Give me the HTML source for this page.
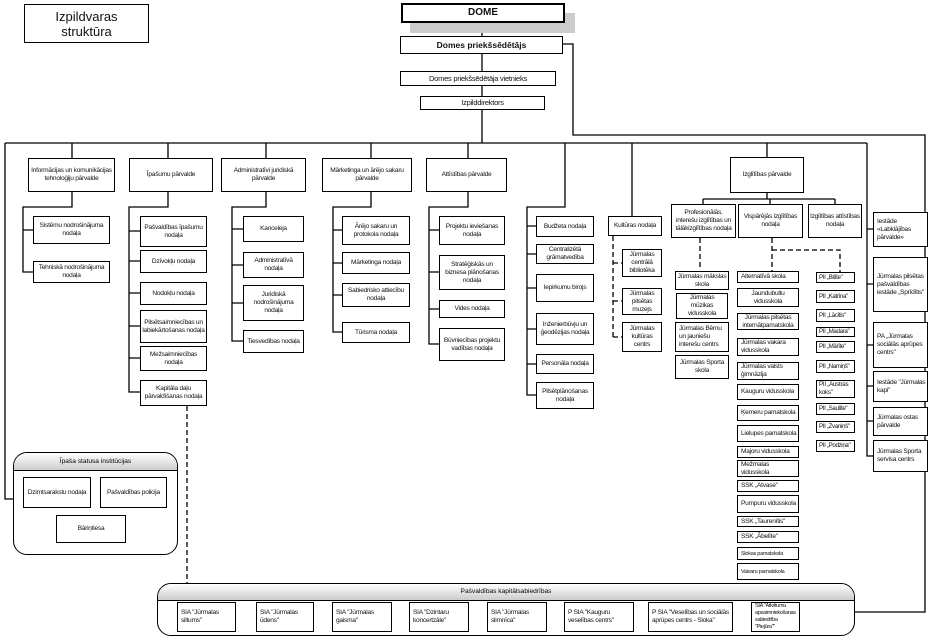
<!DOCTYPE html>
<html><head><meta charset="utf-8"><style>
body{margin:0;width:930px;height:640px;background:#fff;position:relative;overflow:hidden;font-family:"Liberation Sans",Arial,sans-serif;}
.b{position:absolute;border:1.5px solid #000;box-sizing:border-box;display:flex;align-items:center;justify-content:center;text-align:center;font-size:6.6px;line-height:8px;background:#fff;letter-spacing:-0.25px;padding:0 1px;color:#111}
.l{justify-content:flex-start;text-align:left;padding-left:3px}
.p{white-space:nowrap;font-size:6.2px;letter-spacing:-0.35px;padding-left:2px;overflow:hidden}
svg{position:absolute;left:0;top:0}
.rb{position:absolute;border:1.5px solid #000;box-sizing:border-box;border-radius:14px;background:#fff;overflow:hidden}
.hd{position:absolute;left:0;right:0;top:0;border-bottom:1.5px solid #000;background:linear-gradient(#fff,#ccc);font-size:6.6px;text-align:center}
</style></head><body>
<svg width="930" height="640">
<g stroke="#000" stroke-width="1.3" fill="none">
<path d="M482 23V36M482 54V71M482 86V96M482 110V143M5 143H867M563 44H573V135H925V612H855"/>
<path d="M5 143V499H13"/>
<path d="M72 143V158M72 192V207H23V272H33M23 230H33"/>
<path d="M168 143V158M168 192V207H129V392H140M129 231H140M129 261H140M129 293H140M129 326H140M129 358H140"/>
<path d="M266 143V158M266 192V207H232V341H243M232 229H243M232 265H243M232 303H243"/>
<path d="M371 143V158M371 192V207H333V332H342M333 230H342M333 263H342M333 295H342"/>
<path d="M468 143V158M468 192V207H429V344H439M429 230H439M429 272H439M429 309H439"/>
<path d="M565 143V207H527V395H536M527 226H536M527 254H536M527 288H536M527 329H536M527 364H536"/>
<path d="M632 143V216"/>
<path d="M767 143V157M767 193V199M703 199H835M703 199V204M770 199V204M835 199V204"/>
<path d="M867 143V456H873M867 229H873M867 284H873M867 345H873M867 386H873M867 421H873"/>
</g>
<g stroke="#000" stroke-width="1.3" fill="none" stroke-dasharray="5,3">
<path d="M613 236V338M613 263H622M613 301H622M613 337H622"/>
<path d="M700 238V270M772 238V272M772 250H840V272"/>
<path d="M187 406V583"/>
</g>
</svg>

<div class="b" style="left:24px;top:4px;width:125px;height:39px;font-size:13px;line-height:15px;letter-spacing:0">Izpildvaras<br>struktūra</div>
<div style="position:absolute;left:410px;top:13px;width:165px;height:20px;background:#ccc"></div>
<div class="b" style="left:401px;top:3px;width:164px;height:20px;border-width:2.5px;font-size:10px;font-weight:bold;letter-spacing:0">DOME</div>
<div class="b" style="left:400px;top:36px;width:163px;height:18px;font-size:8.5px;font-weight:bold;letter-spacing:0">Domes priekšsēdētājs</div>
<div class="b" style="left:400px;top:71px;width:156px;height:15px;font-size:7.5px">Domes priekšsēdētāja vietnieks</div>
<div class="b" style="left:420px;top:96px;width:125px;height:14px;font-size:7.5px">Izpilddirektors</div>

<div class="b" style="left:28px;top:158px;width:87px;height:34px">Informācijas un komunikācijas tehnoloģiju pārvalde</div>
<div class="b" style="left:33px;top:216px;width:77px;height:28px">Sistēmu nodrošinājuma nodaļa</div>
<div class="b" style="left:33px;top:261px;width:77px;height:22px">Tehniskā nodrošinājuma nodaļa</div>

<div class="b" style="left:129px;top:158px;width:84px;height:34px">Īpašumu pārvalde</div>
<div class="b" style="left:140px;top:216px;width:67px;height:31px">Pašvaldības īpašumu nodaļa</div>
<div class="b" style="left:140px;top:250px;width:67px;height:23px">Dzīvokļu nodaļa</div>
<div class="b" style="left:140px;top:282px;width:67px;height:23px">Nodokļu nodaļa</div>
<div class="b" style="left:140px;top:310px;width:67px;height:33px">Pilsētsaimniecības un labiekārtošanas nodaļa</div>
<div class="b" style="left:140px;top:346px;width:67px;height:25px">Mežsaimniecības nodaļa</div>
<div class="b" style="left:140px;top:380px;width:67px;height:26px">Kapitāla daļu pārvaldīšanas nodaļa</div>

<div class="b" style="left:221px;top:158px;width:85px;height:34px">Administratīvi juridiskā pārvalde</div>
<div class="b" style="left:243px;top:216px;width:61px;height:26px">Kanceleja</div>
<div class="b" style="left:243px;top:252px;width:61px;height:26px">Administratīvā nodaļa</div>
<div class="b" style="left:243px;top:285px;width:61px;height:36px">Juridiskā nodrošinājuma nodaļa</div>
<div class="b" style="left:243px;top:330px;width:61px;height:23px">Tiesvedības nodaļa</div>

<div class="b" style="left:322px;top:158px;width:90px;height:34px">Mārketinga un ārējo sakaru pārvalde</div>
<div class="b" style="left:342px;top:216px;width:68px;height:29px">Ārējo sakaru un protokola nodaļa</div>
<div class="b" style="left:342px;top:252px;width:68px;height:22px">Mārketinga nodaļa</div>
<div class="b" style="left:342px;top:283px;width:68px;height:24px">Sabiedrisko attiecību nodaļa</div>
<div class="b" style="left:342px;top:322px;width:68px;height:21px">Tūrisma nodaļa</div>

<div class="b" style="left:426px;top:158px;width:81px;height:34px">Attīstības pārvalde</div>
<div class="b" style="left:439px;top:216px;width:66px;height:29px">Projektu ieviešanas nodaļa</div>
<div class="b" style="left:439px;top:255px;width:66px;height:35px">Stratēģiskās un biznesa plānošanas nodaļa</div>
<div class="b" style="left:439px;top:300px;width:66px;height:18px">Vides nodaļa</div>
<div class="b" style="left:439px;top:328px;width:66px;height:33px">Būvniecības projektu vadības nodaļa</div>

<div class="b" style="left:536px;top:216px;width:58px;height:21px">Budžeta nodaļa</div>
<div class="b" style="left:536px;top:244px;width:58px;height:20px">Centralizētā grāmatvedība</div>
<div class="b" style="left:536px;top:274px;width:58px;height:28px">Iepirkumu birojs</div>
<div class="b" style="left:536px;top:313px;width:58px;height:32px">Inženierbūvju un ģeodēzijas nodaļa</div>
<div class="b" style="left:536px;top:354px;width:58px;height:20px">Personāla nodaļa</div>
<div class="b" style="left:536px;top:382px;width:58px;height:27px">Pilsētplānošanas nodaļa</div>

<div class="b" style="left:608px;top:216px;width:54px;height:20px">Kultūras nodaļa</div>
<div class="b" style="left:622px;top:249px;width:40px;height:28px">Jūrmalas centrālā bibliotēka</div>
<div class="b" style="left:622px;top:288px;width:40px;height:27px">Jūrmalas pilsētas muzejs</div>
<div class="b" style="left:622px;top:322px;width:40px;height:30px">Jūrmalas kultūras centrs</div>

<div class="b" style="left:730px;top:157px;width:74px;height:36px">Izglītības pārvalde</div>
<div class="b" style="left:671px;top:204px;width:65px;height:34px">Profesionālās, interešu izglītības un tālākizglītības nodaļa</div>
<div class="b" style="left:738px;top:204px;width:65px;height:34px">Vispārējās izglītības nodaļa</div>
<div class="b" style="left:808px;top:204px;width:54px;height:34px">Izglītības attīstības nodaļa</div>

<div class="b" style="left:675px;top:271px;width:54px;height:19px">Jūrmalas mākslas skola</div>
<div class="b" style="left:676px;top:293px;width:52px;height:26px">Jūrmalas mūzikas vidusskola</div>
<div class="b l" style="left:675px;top:322px;width:54px;height:30px">Jūrmalas Bērnu un jauniešu interešu centrs</div>
<div class="b" style="left:675px;top:355px;width:54px;height:24px">Jūrmalas Sporta skola</div>

<div class="b l" style="left:737px;top:271px;width:62px;height:12px">Alternatīvā skola</div>
<div class="b" style="left:737px;top:288px;width:62px;height:19px">Jaundubultu vidusskola</div>
<div class="b" style="left:737px;top:313px;width:62px;height:17px">Jūrmalas pilsētas internātpamatskola</div>
<div class="b l" style="left:737px;top:338px;width:62px;height:18px">Jūrmalas vakara vidusskola</div>
<div class="b l" style="left:737px;top:362px;width:62px;height:18px">Jūrmalas valsts ģimnāzija</div>
<div class="b l" style="left:737px;top:384px;width:62px;height:16px">Kauguru vidusskola</div>
<div class="b l" style="left:737px;top:405px;width:62px;height:16px">Ķemeru pamatskola</div>
<div class="b l" style="left:737px;top:425px;width:62px;height:17px">Lielupes pamatskola</div>
<div class="b l" style="left:737px;top:446px;width:62px;height:12px">Majoru vidusskola</div>
<div class="b l" style="left:737px;top:460px;width:62px;height:17px">Mežmalas vidusskola</div>
<div class="b l" style="left:737px;top:480px;width:62px;height:12px">SSK „Atvase"</div>
<div class="b l" style="left:737px;top:495px;width:62px;height:18px">Pumpuru vidusskola</div>
<div class="b l" style="left:737px;top:516px;width:62px;height:11px">SSK „Taurenītis"</div>
<div class="b l" style="left:737px;top:531px;width:62px;height:12px">SSK „Ābelīte"</div>
<div class="b l" style="left:737px;top:547px;width:62px;height:13px;font-size:5.5px">Slokas pamatskola</div>
<div class="b l" style="left:737px;top:563px;width:62px;height:17px;font-size:5.5px">Vaivaru pamatskola</div>

<div class="b l p" style="left:816px;top:272px;width:39px;height:11px">PII „Bitīte"</div>
<div class="b l p" style="left:816px;top:290px;width:39px;height:13px">PII „Katrīna"</div>
<div class="b l p" style="left:816px;top:309px;width:39px;height:13px">PII „Lācītis"</div>
<div class="b l p" style="left:816px;top:327px;width:39px;height:10px">PII „Madara"</div>
<div class="b l p" style="left:816px;top:341px;width:39px;height:12px">PII „Mārīte"</div>
<div class="b l p" style="left:816px;top:360px;width:39px;height:13px">PII „Namiņš"</div>
<div class="b l" style="left:816px;top:380px;width:39px;height:18px;font-size:6.2px;padding-left:2px">PII „Austras koks"</div>
<div class="b l p" style="left:816px;top:403px;width:39px;height:12px">PII „Saulīte"</div>
<div class="b l p" style="left:816px;top:421px;width:39px;height:12px">PII „Zvaniņš"</div>
<div class="b l p" style="left:816px;top:440px;width:39px;height:12px">PII „Podziņa"</div>

<div class="b l" style="left:873px;top:212px;width:55px;height:35px">Iestāde «Labklājības pārvalde»</div>
<div class="b l" style="left:873px;top:257px;width:55px;height:55px">Jūrmalas pilsētas pašvaldības iestāde „Sprīdītis"</div>
<div class="b l" style="left:873px;top:322px;width:55px;height:46px">PA „Jūrmalas sociālās aprūpes centrs"</div>
<div class="b l" style="left:873px;top:371px;width:55px;height:31px">Iestāde "Jūrmalas kapi"</div>
<div class="b l" style="left:873px;top:407px;width:55px;height:29px">Jūrmalas ostas pārvalde</div>
<div class="b l" style="left:873px;top:440px;width:55px;height:32px">Jūrmalas Sporta servisa centrs</div>

<div class="rb" style="left:13px;top:452px;width:165px;height:103px">
<div class="hd" style="height:17px;line-height:17px">Īpaša statusa institūcijas</div>
</div>
<div class="b" style="left:23px;top:477px;width:68px;height:31px">Dzimtsarakstu nodaļa</div>
<div class="b" style="left:100px;top:477px;width:67px;height:31px">Pašvaldības policija</div>
<div class="b" style="left:56px;top:515px;width:70px;height:28px">Bāriņtiesa</div>

<div class="rb" style="left:157px;top:583px;width:698px;height:53px">
<div class="hd" style="height:16px;line-height:16px">Pašvaldības kapitālsabiedrības</div>
</div>
<div class="b l" style="left:177px;top:602px;width:59px;height:30px">SIA "Jūrmalas siltums"</div>
<div class="b l" style="left:256px;top:602px;width:58px;height:30px">SIA "Jūrmalas ūdens"</div>
<div class="b l" style="left:332px;top:602px;width:60px;height:30px">SIA "Jūrmalas gaisma"</div>
<div class="b l" style="left:409px;top:602px;width:60px;height:30px">SIA "Dzintaru koncertzāle"</div>
<div class="b l" style="left:487px;top:602px;width:60px;height:30px">SIA "Jūrmalas slimnīca"</div>
<div class="b l" style="left:564px;top:602px;width:70px;height:30px">P SIA "Kauguru veselības centrs"</div>
<div class="b l" style="left:648px;top:602px;width:85px;height:30px">P SIA "Veselības un sociālās aprūpes centrs - Sloka"</div>
<div class="b l" style="left:751px;top:602px;width:49px;height:30px;font-size:5.6px;line-height:7px;letter-spacing:-0.35px">SIA "Atkritumu apsaimniekošanas sabiedrība "Piejūra""</div>
</body></html>
